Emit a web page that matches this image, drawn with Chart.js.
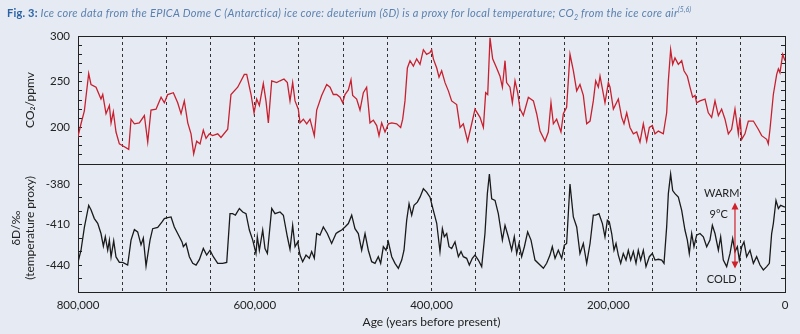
<!DOCTYPE html>
<html>
<head>
<meta charset="utf-8">
<script src="https://cdn.jsdelivr.net/npm/chart.js@4.4.1/dist/chart.umd.min.js"></script>
<style>
  html, body { margin: 0; padding: 0; background: #e6ebf3; }
  #wrap { position: relative; width: 800px; height: 334px; overflow: hidden; }
  #caption {
    position: absolute; top: 5px; left: 7px;
    font: italic 11px Lato, sans-serif; letter-spacing: 0.3px; color: #5b80b0; white-space: nowrap;
  }
  #caption b { font-style: normal; color: #2a62a6; letter-spacing: 0.2px; }
  #caption sub, #caption sup { font-size: 7px; letter-spacing: 0; }
  canvas { position: absolute; top: 0; left: 0; }
</style>
</head>
<body>
<div id="wrap">
  <canvas id="chart" width="800" height="334"></canvas>
  <div id="caption"><b>Fig. 3:</b> Ice core data from the EPICA Dome C (Antarctica) ice core: deuterium (δD) is a proxy for local temperature; CO<sub>2</sub> from the ice core air<sup>(5,6)</sup></div>
</div>
<script>
// ages in thousands of years before present
const co2Age = [800.3, 796.6, 792.8, 787.9, 785.3, 779.6, 774, 772, 768.3, 764.5, 762.6, 760, 757, 753.2, 749.4, 742.6, 740, 736.2, 730.6, 724.9,
  721.1, 717.4, 711.7, 706, 702.3, 698.5, 692.1, 687.2, 683.4, 679.7, 675.8, 672.1, 669.1, 665.7, 661.9, 658.2, 655.1, 651.4, 647.6, 641.9,
  638.2, 630.6, 626.9, 619.3, 611.8, 609.1, 604.2, 600.8, 597.8, 594.8, 590.3, 587.3, 584.6, 580.8, 575.2, 571.4, 566.9, 563.1, 560.1, 557.1,
  554.4, 550.7, 548.8, 545, 541.2, 537.5, 532.6, 529.9, 524.3, 518.6, 514.8, 511.1, 507.3, 503.5, 500.5, 497.9, 494.1, 491.1, 489.2, 484.7,
  480.9, 477.1, 473.4, 469.6, 465.8, 462, 459.4, 456.4, 452.6, 448.8, 445, 439.4, 434.9, 432.6, 430, 427.3, 424.3, 420.5, 416.8, 413,
  409.2, 405.5, 401.7, 399.8, 397.9, 394.1, 391.5, 388.5, 384.7, 380.9, 377.2, 371.5, 367.7, 364, 359.1, 354.5, 350.8, 345.1, 341.3, 338.7,
  336.4, 333.8, 330.8, 326.3, 322.5, 319.8, 316.8, 315, 311.2, 308.5, 305.5, 302.5, 299.8, 296.1, 290.4, 284.7, 281, 277.2, 271.6, 267.8,
  264.8, 262.1, 258.4, 253.5, 250.8, 247.1, 243.3, 239.5, 235.7, 232, 228.2, 224.4, 220.6, 216.9, 214.2, 211.2, 209.3, 203.7, 199.9, 198,
  194.2, 188.6, 184.8, 182.2, 179.1, 175.4, 171.6, 167.8, 164.1, 160.3, 156.5, 153.5, 150.1, 147.1, 143.3, 137.7, 133.9, 132, 129.4, 127.1,
  124.5, 120.7, 116.9, 114.3, 110.5, 107.5, 104.5, 101.8, 100, 96.2, 90.5, 86.8, 83, 79.2, 75.4, 71.7, 67.9, 64.1, 60.4, 56.6,
  52.8, 50.9, 49, 45.3, 41.5, 35.8, 30.2, 26.4, 20.7, 18.9, 17, 13.2, 9.4, 7.5, 5.7, 2.6, 0];
const co2Ppm = [189, 204, 218, 259, 247, 244, 231, 236, 215, 224, 205, 217, 195, 182, 180, 176, 209, 204, 205, 213,
  184, 219, 220, 233, 227, 236, 238, 227, 215, 229, 205, 193, 171, 185, 182, 197, 188, 193, 191, 193,
  189, 198, 236, 244, 258, 258, 236, 216, 231, 224, 248, 229, 205, 251, 249, 251, 253, 249, 229, 249,
  229, 220, 205, 209, 204, 209, 191, 219, 235, 247, 244, 236, 236, 233, 227, 236, 241, 252, 235, 231,
  219, 238, 244, 205, 208, 202, 191, 205, 195, 204, 205, 204, 200, 209, 229, 265, 273, 267, 275, 269,
  285, 280, 282, 285, 275, 265, 255, 262, 249, 240, 229, 225, 200, 204, 185, 204, 220, 211, 200, 238,
  236, 298, 275, 265, 256, 244, 273, 249, 244, 227, 251, 238, 220, 213, 233, 229, 215, 196, 185, 195,
  227, 204, 209, 195, 215, 222, 280, 262, 240, 247, 235, 204, 207, 229, 251, 244, 256, 227, 249, 244,
  220, 231, 211, 204, 216, 200, 193, 195, 184, 204, 185, 200, 202, 193, 196, 193, 216, 251, 285, 269,
  276, 269, 273, 262, 256, 244, 233, 235, 227, 229, 231, 216, 211, 229, 213, 220, 209, 193, 198, 220,
  193, 211, 187, 193, 207, 207, 198, 191, 187, 182, 198, 236, 258, 264, 260, 280, 273];

const dDAge = [800.3, 796.6, 792.8, 787.9, 785.3, 781.5, 777.7, 774, 771.3, 769.1, 766.4, 764.5, 762.6, 759.6, 757, 753.2, 749.4, 743.8, 740, 736.2,
  732.5, 728.7, 726.1, 723, 718.5, 715.5, 709.8, 704.9, 702.3, 698.5, 694.7, 691, 687.2, 682.3, 680.8, 677.8, 674, 670.2, 666.4, 662.7,
  658.2, 654.4, 650.6, 646.9, 641.9, 636.3, 631.7, 628, 625, 621.9, 617.4, 613.6, 609.9, 606.1, 602.3, 598.6, 597.1, 594.8, 591, 588.4,
  585.7, 580.8, 577.1, 571.4, 567.6, 563.1, 560.1, 557.1, 554.4, 551.4, 548.8, 545.8, 542, 538.2, 535.6, 532.6, 529.9, 526.2, 522.4, 517.9,
  513, 508, 505.4, 501.6, 497.9, 494.1, 490.3, 486.6, 482.8, 479, 475.2, 471.5, 467.7, 463.9, 460.2, 457.5, 454.5, 451.5, 448.8, 445,
  441.3, 437.5, 433.7, 431.1, 428.1, 425.4, 422.4, 419.8, 416, 413, 409.2, 405.5, 401.7, 397.9, 394.1, 390.4, 387.7, 385.5, 382.8, 380.2,
  377.2, 373.4, 369.6, 366.6, 364, 360.2, 357.2, 353.8, 350.8, 347, 343.2, 339.5, 336.8, 334.5, 331.9, 328.1, 324.4, 319.8, 316.8, 313.1,
  309.3, 306.3, 303.6, 301, 298, 294.9, 291.2, 287.4, 282.9, 277.2, 273.4, 269.7, 265.9, 263.3, 260.2, 256.5, 252.7, 249.7, 247.1, 243.3,
  239.5, 235.7, 232, 228.2, 224.4, 220.6, 216.9, 214.2, 210.5, 206.6, 203.7, 201, 198.8, 196.1, 193.5, 191.2, 188.6, 185.9, 183, 179.9,
  177.3, 174.6, 171.6, 168.6, 166, 163.3, 160.3, 157.3, 153.5, 150.1, 147.1, 143.3, 139.5, 136.9, 133.9, 132, 129.4, 127.1, 124.5, 120.7,
  116.9, 113.2, 110.5, 108.3, 105.6, 103, 100, 96.2, 92.4, 88.6, 84.9, 82.2, 79.2, 75.4, 72.8, 69.8, 66, 62.2, 59.2, 56.6,
  53.9, 51.7, 49, 46.4, 43.4, 39.6, 35.8, 32.1, 28.3, 24.5, 20.7, 17.7, 15.1, 13.2, 10.2, 7.5, 4.9, 0];
const dDPermil = [-438.7, -429, -412, -395.7, -399, -405.5, -409, -416.6, -426, -419, -429, -421.5, -434, -422, -434, -438, -438, -440, -421.5, -413.7,
  -415.4, -425, -420, -440.7, -421.5, -413, -412, -408, -405.5, -404.8, -404.3, -411.7, -416.6, -422.8, -426.4, -424, -433.8, -438.7, -440, -436,
  -427.7, -432.6, -429, -433.8, -438.7, -438.7, -438, -401.9, -401.9, -403, -398, -400.6, -401.9, -414, -421.5, -431.4, -419, -429, -414, -427.7,
  -431.4, -398, -401.9, -400.6, -403, -419, -428.4, -410.5, -426.4, -422.8, -432.6, -437.5, -432.6, -435, -430, -435, -416.6, -417.8, -411.7, -416.6,
  -424, -416.6, -415.4, -414, -411.7, -409.2, -403, -413, -416.6, -429, -416.6, -429, -437.5, -438.7, -433.8, -438.7, -426.4, -429, -422.8, -433.8,
  -438.7, -442.4, -436.3, -429, -406.8, -394.5, -403, -395.7, -393.3, -389.6, -383.4, -385.9, -389.6, -399.4, -409, -430, -413, -419, -416.6, -426.4,
  -427.7, -422.8, -433.8, -430, -433.8, -435, -440, -435, -432.6, -436.3, -441.2, -416.6, -387, -372.4, -390.8, -392, -401.9, -421.5, -410.5, -419,
  -429, -419, -431.4, -424, -433.8, -426.4, -415.4, -421.5, -436.3, -440, -442.4, -438.7, -432.6, -426.4, -435, -429, -435, -425.2, -424, -379.8,
  -404.3, -411.7, -431.4, -424, -438.7, -424, -403, -403, -401.9, -409.2, -419, -406.8, -408, -416.6, -429, -424, -432.6, -438.7, -431.4, -436.3,
  -429, -436.3, -430, -438.7, -429, -436.3, -429, -441.2, -433.8, -431.4, -436.3, -435.7, -436.3, -438.7, -411.7, -387, -372.4, -384.7, -387, -389.6,
  -399.4, -414, -421.5, -431.4, -416.6, -426.4, -417.8, -416.6, -419, -426.4, -421.5, -410.5, -416.6, -429, -419, -436.3, -441.2, -431.4, -420.3, -430,
  -426.4, -436.3, -426.4, -422.8, -433.8, -429, -438.7, -433.8, -440, -443.6, -441.2, -438.7, -416.6, -409.2, -392, -398, -395.7, -397];

// the 9°C warm/cold marker, in data units (age kyr, permil)
const markerAge = 56.6;
const markerTop = -393.5;
const markerBottom = -442.5;
const markerTextAge = 75;

const FONT = 'Lato, sans-serif';
const INK = '#222';

const toPoints = (ages, vals) => ages.map((a, i) => ({ x: a, y: vals[i] }));

// Red double arrow with WARM / 9°C / COLD labels
const markerPlugin = {
  id: 'marker',
  afterDatasetsDraw(chart) {
    const { ctx, scales } = chart;
    const x = scales.x.getPixelForValue(markerAge);
    const y1 = scales.yD.getPixelForValue(markerTop);
    const y2 = scales.yD.getPixelForValue(markerBottom);
    ctx.save();
    ctx.strokeStyle = '#d0202a';
    ctx.fillStyle = '#d0202a';
    ctx.lineWidth = 1.2;
    ctx.beginPath();
    ctx.moveTo(x, y1 + 5);
    ctx.lineTo(x, y2 - 5);
    ctx.stroke();
    ctx.beginPath();
    ctx.moveTo(x, y1); ctx.lineTo(x - 3.5, y1 + 7); ctx.lineTo(x + 3.5, y1 + 7);
    ctx.closePath(); ctx.fill();
    ctx.beginPath();
    ctx.moveTo(x, y2); ctx.lineTo(x - 3.5, y2 - 7); ctx.lineTo(x + 3.5, y2 - 7);
    ctx.closePath(); ctx.fill();

    const tx = scales.x.getPixelForValue(markerTextAge);
    ctx.fillStyle = INK;
    ctx.font = '11px ' + FONT;
    ctx.textAlign = 'center';
    ctx.textBaseline = 'middle';
    ctx.fillText('WARM', tx + 3, y1 - 9);
    ctx.fillText('9°C', tx, y1 + 12);
    ctx.fillText('COLD', tx + 3, y2 + 11);
    ctx.restore();
  }
};

const leftWidth = s => { s.width = 78; };
const rightWidth = s => { s.width = 15; };

const yCommon = {
  type: 'linear',
  stack: 'panels',
  stackWeight: 1,
  border: { color: INK, width: 1 },
  ticks: { stepSize: 10, padding: 12, autoSkip: false, color: INK, font: { family: FONT, size: 11.5 } },
};

new Chart(document.getElementById('chart'), {
  type: 'line',
  data: {
    datasets: [
      {
        label: 'CO2',
        data: toPoints(co2Age, co2Ppm),
        yAxisID: 'yC',
        borderColor: '#c8202e',
        borderWidth: 1.3,
        pointRadius: 0,
      },
      {
        label: 'dD',
        data: toPoints(dDAge, dDPermil),
        yAxisID: 'yD',
        borderColor: '#1a1a1a',
        borderWidth: 1.3,
        pointRadius: 0,
      },
    ],
  },
  options: {
    responsive: false,
    animation: false,
    layout: { padding: { top: 36, left: 0, right: 0, bottom: 0 } },
    plugins: { legend: { display: false }, tooltip: { enabled: false } },
    scales: {
      x: {
        type: 'linear',
        reverse: true,
        min: 0,
        max: 800,
        afterFit: s => { s.height = 42; },
        border: { color: INK, width: 1, dash: [3, 3] },
        grid: {
          drawTicks: false,
          color: c => (c.tick && (c.tick.value === 0 || c.tick.value === 800)) ? 'transparent' : '#333',
          lineWidth: 1,
        },
        ticks: {
          stepSize: 50,
          padding: 6,
          maxRotation: 0,
          autoSkip: false,
          color: INK,
          font: { family: FONT, size: 11.5 },
          callback: v => (v % 200 === 0 ? (v * 1000).toLocaleString('en-US') : ''),
        },
        title: {
          display: true,
          text: 'Age (years before present)',
          color: INK,
          font: { family: FONT, size: 12 },
          padding: { top: 0, bottom: 5 },
        },
      },
      yD: {
        ...yCommon,
        position: 'left',
        min: -460,
        max: -365,
        afterFit: leftWidth,
        grid: { drawOnChartArea: false, tickLength: -4, tickColor: INK },
        ticks: { ...yCommon.ticks, callback: v => ((((v % 30) + 30) % 30) === 10 ? String(v) : '') },
        title: {
          display: true,
          text: ['δD/‰', '(temperature proxy)'],
          color: INK,
          font: { family: FONT, size: 12 },
          padding: { top: 9, bottom: 0 },
        },
      },
      yC: {
        ...yCommon,
        position: 'left',
        min: 160,
        max: 300,
        afterFit: leftWidth,
        grid: {
          drawOnChartArea: true,
          tickLength: -4,
          tickColor: INK,
          color: c => (c.tick && (c.tick.value === 300 || c.tick.value === 160)) ? INK : 'transparent',
        },
        ticks: { ...yCommon.ticks, callback: v => (v % 50 === 0 ? String(v) : '') },
        title: {
          display: true,
          text: 'CO₂/ppmv',
          color: INK,
          font: { family: FONT, size: 12 },
          padding: { top: 23, bottom: 0 },
        },
      },
      yCR: {
        ...yCommon,
        position: 'right',
        min: 160,
        max: 300,
        afterFit: rightWidth,
        grid: { drawOnChartArea: false, tickLength: -4, tickColor: INK },
        ticks: { ...yCommon.ticks, color: 'transparent', callback: () => '' },
      },
      yDR: {
        ...yCommon,
        position: 'right',
        min: -460,
        max: -365,
        afterFit: rightWidth,
        grid: { drawOnChartArea: false, tickLength: -4, tickColor: INK },
        ticks: { ...yCommon.ticks, color: 'transparent', callback: () => '' },
      },
    },
  },
  plugins: [markerPlugin],
});
</script>
</body>
</html>
